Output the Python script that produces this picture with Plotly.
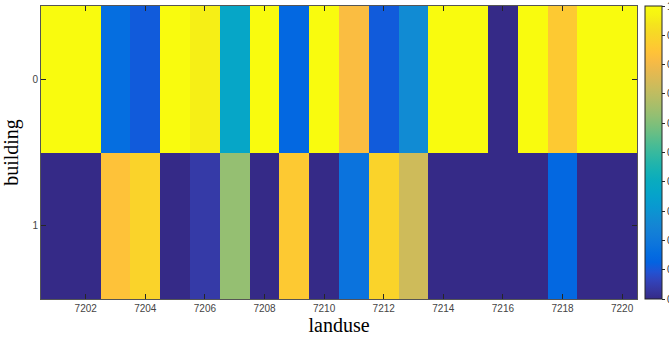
import plotly.graph_objects as go

# Share of each land-use code falling into building class 0 / 1
landuse = list(range(7201, 7221))
building = [0, 1]
share_building0 = [1.00, 1.00, 0.16, 0.11, 1.00, 0.96, 0.37, 1.00, 0.14, 1.00,
                   0.82, 0.11, 0.27, 1.00, 1.00, 0.00, 1.00, 0.86, 1.00, 1.00]
share_building1 = [0.00, 0.00, 0.84, 0.89, 0.00, 0.04, 0.63, 0.00, 0.86, 0.00,
                   0.18, 0.89, 0.73, 0.00, 0.00, 0.00, 0.00, 0.14, 0.00, 0.00]
x_ticks = list(range(7202, 7221, 2))
cbar_ticks = [round(0.1 * i, 1) for i in range(11)]

# Parula colour map
parula = [
    [0.2081, 0.1663, 0.5292], [0.2123, 0.2138, 0.6270], [0.1959, 0.2645, 0.7279],
    [0.1253, 0.3242, 0.8303], [0.0117, 0.3875, 0.8820], [0.0165, 0.4266, 0.8786],
    [0.0498, 0.4586, 0.8641], [0.0723, 0.4887, 0.8467], [0.0793, 0.5200, 0.8312],
    [0.0641, 0.5570, 0.8240], [0.0343, 0.5966, 0.8199], [0.0239, 0.6287, 0.8038],
    [0.0228, 0.6535, 0.7768], [0.0384, 0.6743, 0.7436], [0.0843, 0.6928, 0.7062],
    [0.1453, 0.7098, 0.6646], [0.2178, 0.7250, 0.6193], [0.3022, 0.7376, 0.5712],
    [0.3953, 0.7459, 0.5244], [0.4871, 0.7491, 0.4840], [0.5709, 0.7485, 0.4494],
    [0.6473, 0.7456, 0.4188], [0.7184, 0.7411, 0.3905], [0.7858, 0.7356, 0.3633],
    [0.8507, 0.7299, 0.3360], [0.9139, 0.7258, 0.3063], [0.9739, 0.7314, 0.2666],
    [0.9990, 0.7653, 0.2164], [0.9880, 0.8066, 0.1794], [0.9697, 0.8481, 0.1475],
    [0.9589, 0.8949, 0.1132], [0.9661, 0.9514, 0.0755], [0.9763, 0.9831, 0.0538],
]
n = len(parula)
colorscale = [[i / (n - 1), "rgb(%d,%d,%d)" % tuple(round(c * 255) for c in rgb)]
              for i, rgb in enumerate(parula)]

fig = go.Figure(go.Heatmap(
    x=landuse,
    y=building,
    z=[share_building0, share_building1],
    zmin=0, zmax=1,
    colorscale=colorscale,
    colorbar=dict(
        x=1.0134, xanchor="left", xpad=0,
        y=0.5, yanchor="middle", len=1, ypad=0,
        thickness=17,
        outlinewidth=1, outlinecolor="#262626",
        tickvals=cbar_ticks,
        ticks="outside", ticklen=3, tickcolor="#262626",
        tickfont=dict(family="Liberation Sans", size=10, color="#333333"),
    ),
))

axis_common = dict(
    showline=True, linecolor="#555555", linewidth=1, mirror="ticks",
    ticks="inside", ticklen=5, tickcolor="#262626",
    showgrid=False, zeroline=False,
    tickfont=dict(family="Liberation Sans", size=10, color="#444444"),
)

fig.update_layout(
    width=669, height=339,
    margin=dict(l=41, r=32, t=6, b=40, autoexpand=False),
    paper_bgcolor="white", plot_bgcolor="white",
    xaxis=dict(
        range=[7200.5, 7220.5], tickvals=x_ticks,
        title=dict(text="landuse", standoff=2,
                   font=dict(family="Liberation Serif", size=20, color="black")),
        **axis_common,
    ),
    yaxis=dict(
        range=[1.5, -0.5], tickvals=building,
        title=dict(text="building", standoff=10,
                   font=dict(family="Liberation Serif", size=20, color="black")),
        **axis_common,
    ),
)

fig.write_html("out.html")
